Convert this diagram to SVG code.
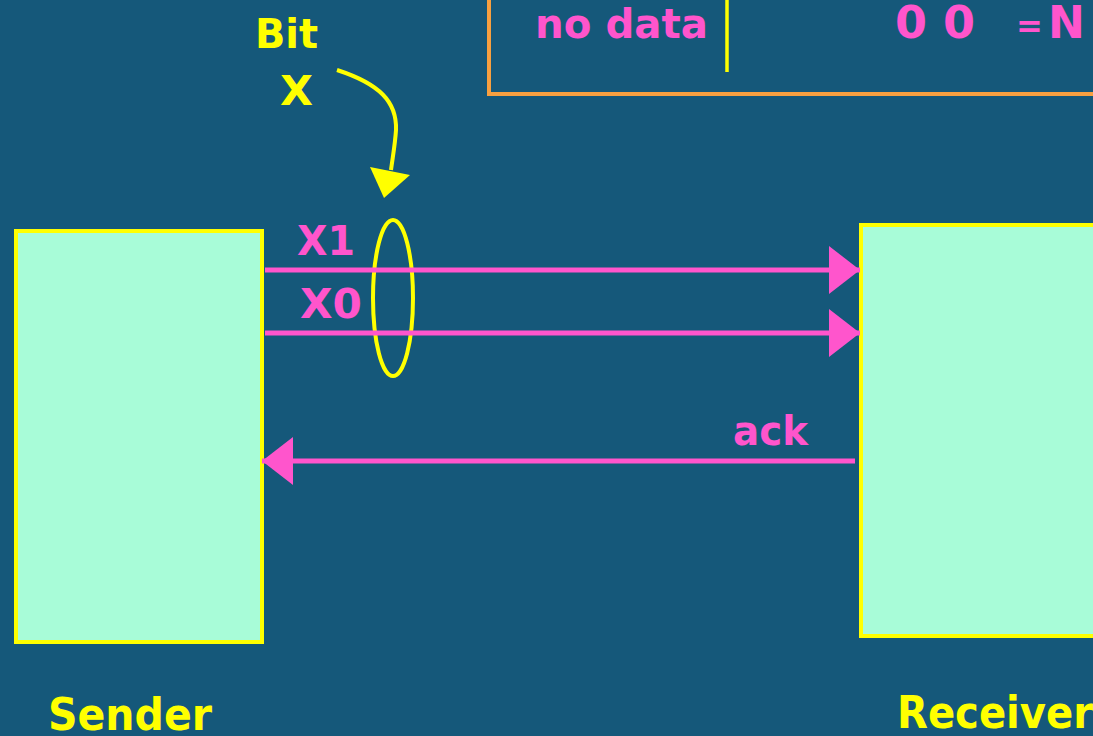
<svg xmlns="http://www.w3.org/2000/svg" width="1093" height="736" viewBox="0 0 1093 736">
<defs>
<style>
.t{font-family:"DejaVu Sans","Liberation Sans",sans-serif;font-weight:bold}
.pink{fill:#FF55CC}
.yel{fill:#FFFF00}
.box{fill:#A8FCD8;stroke:#FFFF00;stroke-width:4}
.wire{stroke:#FF55CC;stroke-width:5;fill:none}
</style>
<marker id="ah" markerUnits="userSpaceOnUse" markerWidth="32" markerHeight="48" refX="31" refY="24" orient="auto">
<path d="M0,0 L31,24 L0,48 Z" fill="#FF55CC"/>
</marker>
</defs>
<rect width="1093" height="736" fill="#15587A"/>
<g id="legend">
<rect x="489" y="-10" width="620" height="104" fill="none" stroke="#F8A040" stroke-width="4"/>
<line x1="727" y1="0" x2="727" y2="72" stroke="#FFFF00" stroke-width="3.5"/>
<text class="t pink" x="535" y="38" font-size="40" textLength="173" lengthAdjust="spacingAndGlyphs">no data</text>
<text class="t pink" x="895" y="38" font-size="44" textLength="80" lengthAdjust="spacingAndGlyphs">0 0</text>
<text class="t pink" x="1016" y="38" font-size="44"><tspan font-size="32" dy="-1">=</tspan><tspan x="1048" dy="1">N</tspan></text>
</g>
<g id="sender">
<rect class="box" x="16" y="231" width="246" height="411"/>
<text class="t yel" x="48" y="730" font-size="44" textLength="164" lengthAdjust="spacingAndGlyphs">Sender</text>
</g>
<g id="receiver">
<rect class="box" x="861" y="225" width="250" height="411"/>
<text class="t yel" x="897" y="728" font-size="44" textLength="196" lengthAdjust="spacingAndGlyphs">Receiver</text>
</g>
<g id="bitlabel">
<text class="t yel" x="255" y="48" font-size="40" textLength="63" lengthAdjust="spacingAndGlyphs">Bit</text>
<text class="t yel" x="280" y="105" font-size="40" textLength="33" lengthAdjust="spacingAndGlyphs">X</text>
</g>
<g id="bundle">
<ellipse cx="393" cy="298" rx="20" ry="78" fill="none" stroke="#FFFF00" stroke-width="4"/>
</g>
<g id="connectors">
<line class="wire" x1="265" y1="270" x2="860" y2="270" marker-end="url(#ah)"/>
<line class="wire" x1="265" y1="333" x2="860" y2="333" marker-end="url(#ah)"/>
<line class="wire" x1="855" y1="461" x2="262" y2="461" marker-end="url(#ah)"/>
<path d="M337,70 C380,84 397,102 396,130 C395,145 393,155 391,170" fill="none" stroke="#FFFF00" stroke-width="4"/>
<path d="M370,167 L410,175 L384,198 Z" fill="#FFFF00"/>
</g>
<g id="labels">
<text class="t pink" x="297" y="255" font-size="40" textLength="58" lengthAdjust="spacingAndGlyphs">X1</text>
<text class="t pink" x="300" y="318" font-size="40" textLength="62" lengthAdjust="spacingAndGlyphs">X0</text>
<text class="t pink" x="733" y="445" font-size="40" textLength="75" lengthAdjust="spacingAndGlyphs">ack</text>
</g>
</svg>
